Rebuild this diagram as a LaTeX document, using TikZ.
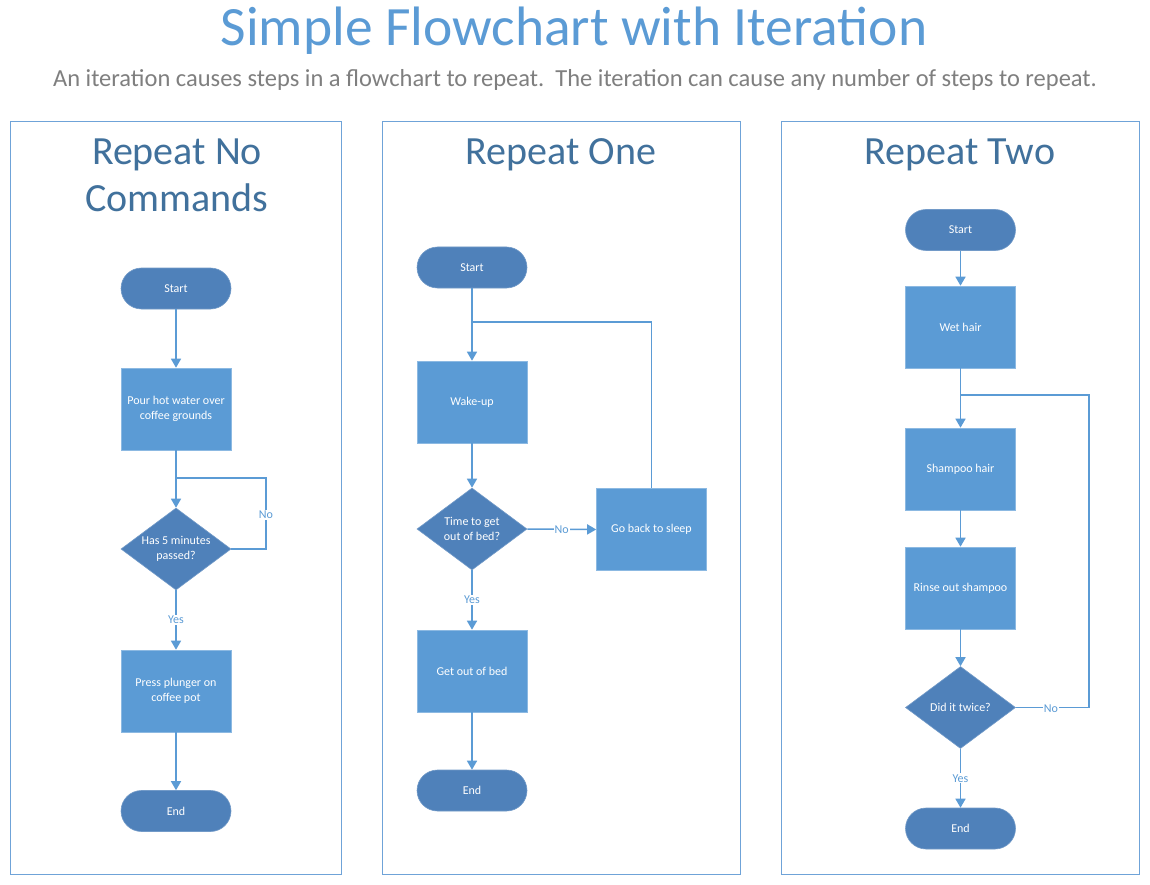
\documentclass[tikz,border=0pt]{standalone}
\usepackage{fontspec}
\setmainfont{Carlito}
\usetikzlibrary{arrows.meta,shapes.geometric}
\definecolor{lineblue}{HTML}{5B9BD5}
\definecolor{procblue}{HTML}{5B9BD5}
\definecolor{termblue}{HTML}{4F81BA}
\definecolor{headblue}{HTML}{41719C}
\definecolor{subgray}{HTML}{7F7F7F}
\definecolor{panelblue}{HTML}{6FA3D8}
\tikzset{
  nodefont/.style={font=\fontsize{12}{14.5}\selectfont},
  proc/.style={rectangle, fill=procblue, draw=procblue!70!white, line width=0.6pt, minimum width=110pt, minimum height=82pt, text=white, align=center, inner sep=2pt, nodefont},
  term/.style={rectangle, rounded corners=20.5pt, fill=termblue, draw=termblue!80!white, line width=0.6pt, minimum width=110pt, minimum height=41pt, text=white, align=center, nodefont},
  dec/.style={diamond, aspect=1.34, fill=termblue, draw=termblue!80!white, line width=0.6pt, minimum width=110pt, minimum height=82pt, inner sep=0pt, text=white, align=center, nodefont},
  ln/.style={draw=lineblue, line width=1.5pt},
  arr/.style={ln, -{Triangle[width=10pt,length=9pt]}},
  lab/.style={fill=white, text=lineblue, inner sep=1pt, nodefont},
  panel/.style={draw=panelblue, line width=1pt},
  head/.style={text=headblue, font=\fontsize{40}{48}\selectfont, inner sep=0pt},
}
\begin{document}
\begin{tikzpicture}[x=1pt,y=-1pt]
\useasboundingbox[fill=white] (0,0) rectangle (1150,885);
% titles
\node[text=lineblue, font=\fontsize{55.5}{66}\selectfont, inner sep=0pt] (title) at (574,31) {Simple Flowchart with Iteration};
\node[text=subgray, font=\fontsize{24.5}{29}\selectfont, inner sep=0pt] (sub) at (575,80) {An iteration causes steps in a flowchart to repeat.\ \ The iteration can cause any number of steps to repeat.};
% panels
\draw[panel] (10,122) rectangle (341,874);
\draw[panel] (382,122) rectangle (740,874);
\draw[panel] (781,122) rectangle (1139,874);
\node[head] (h1a) at (177,155) {Repeat No};
\node[head] (h1b) at (177,198) {Commands};
\node[head] (h2) at (561,155) {Repeat One};
\node[head] (h3) at (960,155) {Repeat Two};
% left flow
\node[term] (s1) at (176,288.5) {Start};
\node[proc] (p1) at (176,409) {Pour hot water over\\coffee grounds};
\node[dec] (d1) at (176,549) {Has 5 minutes\\passed?};
\node[proc] (p2) at (176,691) {Press plunger on\\coffee pot};
\node[term] (e1) at (176,811) {End};
\coordinate (j1) at (176,478);
\coordinate (c1) at (266,478);
\draw[arr] (s1) -- (p1);
\draw[arr] (p1) -- (d1);
\draw[ln] (d1.east) -| (c1) -- (j1);
\node[lab] (no1) at (266,515) {No};
\draw[arr] (d1) -- node[lab] (yes1) {Yes} (p2);
\draw[arr] (p2) -- (e1);
% middle flow
\node[term] (s2) at (472,267.5) {Start};
\node[proc] (p3) at (472,402) {Wake-up};
\node[dec] (d2) at (472,529) {Time to get\\out of bed?};
\node[proc] (p4) at (651.5,529.5) {Go back to sleep};
\node[proc] (p5) at (472,671) {Get out of bed};
\node[term] (e2) at (472,790.5) {End};
\coordinate (j2) at (472,322);
\draw[arr] (s2) -- (p3);
\draw[arr] (p3) -- (d2);
\draw[arr] (d2.east) -- node[lab] (no2) {No} (p4.west);
\draw[ln] (p4.north) |- (j2);
\draw[arr] (d2) -- node[lab] (yes2) {Yes} (p5);
\draw[arr] (p5) -- (e2);
% right flow
\node[term] (s3) at (960.5,230) {Start};
\node[proc] (p6) at (960.5,327) {Wet hair};
\node[proc] (p7) at (960.5,469) {Shampoo hair};
\node[proc] (p8) at (960.5,588) {Rinse out shampoo};
\node[dec] (d3) at (960.5,707.5) {Did it twice?};
\node[term] (e3) at (960.5,828.5) {End};
\coordinate (j3) at (960.5,395);
\coordinate (c3) at (1089,395);
\draw[arr] (s3) -- (p6);
\draw[arr] (p6) -- (p7);
\draw[arr] (p7) -- (p8);
\draw[arr] (p8) -- (d3);
\draw[ln] (d3.east) -| (c3) -- (j3);
\node[lab] (no3) at (1051,709) {No};
\draw[arr] (d3) -- node[lab] (yes3) {Yes} (e3);
\end{tikzpicture}
\end{document}
